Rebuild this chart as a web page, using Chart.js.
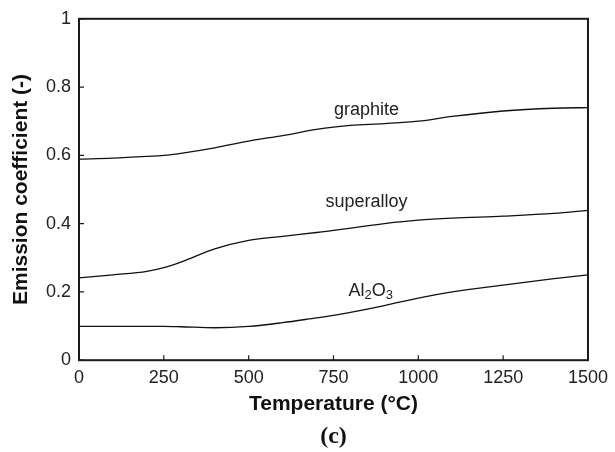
<!DOCTYPE html>
<html>
<head>
<meta charset="utf-8">
<script src="https://cdn.jsdelivr.net/npm/chart.js@4"></script>
<style>
  html, body { margin: 0; padding: 0; background: #fff; }
  #wrap { width: 615px; height: 452px; position: relative; }
</style>
</head>
<body>
<div id="wrap"><canvas id="emissionChart"></canvas></div>
<script>
// temperature (°C)
const temperatures = [0, 100, 200, 250, 300, 400, 500, 600, 700, 750, 800, 900, 1000, 1100, 1250, 1400, 1500];
// emission coefficient per material
const graphite   = [0.589, 0.592, 0.597, 0.600, 0.606, 0.622, 0.642, 0.658, 0.676, 0.683, 0.688, 0.693, 0.700, 0.714, 0.730, 0.738, 0.740];
const superalloy = [0.241, 0.250, 0.260, 0.271, 0.287, 0.326, 0.351, 0.363, 0.374, 0.380, 0.387, 0.400, 0.410, 0.416, 0.422, 0.430, 0.439];
const alumina    = [0.099, 0.099, 0.099, 0.099, 0.098, 0.095, 0.099, 0.110, 0.124, 0.131, 0.140, 0.160, 0.182, 0.200, 0.220, 0.239, 0.250];

const xTicks = [0, 250, 500, 750, 1000, 1250, 1500];
const yTicks = [0, 0.2, 0.4, 0.6, 0.8, 1];

// curve labels: [text, x, y]
const curveLabels = [
    ['graphite', 847, 0.732],
    ['superalloy', 847, 0.463],
    ['Al2O3', 860, 0.204]
];

function toPoints(ys) {
    return temperatures.map((t, i) => ({ x: t, y: ys[i] }));
}

const lineStyle = {
    borderColor: '#111',
    borderWidth: 1.3,
    pointRadius: 0,
    fill: false,
    cubicInterpolationMode: 'monotone'
};

const sans = '"Liberation Sans", Arial, sans-serif';

/**
 * 框線、內向刻度與曲線標籤
 */
const framePlugin = {
    id: 'frame',
    afterDraw(chart) {
        const ctx = chart.ctx;
        const a = chart.chartArea;
        const xs = chart.scales.x;
        const ys = chart.scales.y;
        ctx.save();
        ctx.strokeStyle = '#1a1a1a';
        ctx.lineWidth = 1.2;
        ctx.beginPath();
        xTicks.forEach(v => {
            const px = xs.getPixelForValue(v);
            ctx.moveTo(px, a.bottom);
            ctx.lineTo(px, a.bottom - 5);
        });
        yTicks.forEach(v => {
            const py = ys.getPixelForValue(v);
            ctx.moveTo(a.left, py);
            ctx.lineTo(a.left + 5, py);
        });
        ctx.stroke();
        ctx.lineWidth = 2;
        ctx.strokeRect(a.left, a.top, a.right - a.left, a.bottom - a.top);

        ctx.fillStyle = '#222';
        ctx.textBaseline = 'middle';
        curveLabels.forEach(([text, xv, yv]) => {
            const px = xs.getPixelForValue(xv);
            const py = ys.getPixelForValue(yv);
            if (text === 'Al2O3') {
                const big = '18px ' + sans;
                const small = '13px ' + sans;
                const parts = [['Al', big, 0], ['2', small, 5], ['O', big, 0], ['3', small, 5]];
                let w = 0;
                parts.forEach(([s, f]) => { ctx.font = f; w += ctx.measureText(s).width; });
                let cx = px - w / 2;
                ctx.textAlign = 'left';
                parts.forEach(([s, f, dy]) => {
                    ctx.font = f;
                    ctx.fillText(s, cx, py + dy);
                    cx += ctx.measureText(s).width;
                });
            } else {
                ctx.font = '18px ' + sans;
                ctx.textAlign = 'center';
                ctx.fillText(text, px, py);
            }
        });
        ctx.restore();
    }
};

const ctx = document.getElementById('emissionChart').getContext('2d');
new Chart(ctx, {
    type: 'line',
    data: {
        datasets: [
            { label: 'graphite', data: toPoints(graphite), ...lineStyle },
            { label: 'superalloy', data: toPoints(superalloy), ...lineStyle },
            { label: 'Al2O3', data: toPoints(alumina), ...lineStyle }
        ]
    },
    options: {
        responsive: true,
        maintainAspectRatio: false,
        animation: false,
        layout: { padding: { top: 16, right: 27, left: 0, bottom: 0 } },
        plugins: {
            legend: { display: false },
            tooltip: { enabled: false },
            title: {
                display: true,
                position: 'bottom',
                fullSize: false,
                text: '(c)',
                color: '#111',
                font: { family: '"Liberation Serif", "Times New Roman", serif', size: 24, weight: 'bold' },
                padding: { top: 0, bottom: 1 }
            }
        },
        scales: {
            x: {
                type: 'linear',
                min: 0,
                max: 1500,
                afterBuildTicks: s => { s.ticks = xTicks.map(v => ({ value: v })); },
                afterFit: s => { s.height = 62; },
                grid: { display: false, drawTicks: false },
                border: { display: false },
                ticks: {
                    padding: 7,
                    color: '#222',
                    maxRotation: 0,
                    callback: v => String(v),
                    font: { family: sans, size: 18 }
                },
                title: {
                    display: true,
                    text: 'Temperature (°C)',
                    color: '#111',
                    font: { family: sans, size: 21, weight: 'bold' },
                    padding: { top: 0, bottom: 5 }
                }
            },
            y: {
                min: 0,
                max: 1,
                afterBuildTicks: s => { s.ticks = yTicks.map(v => ({ value: v })); },
                afterFit: s => { s.width = 79; },
                grid: { display: false, drawTicks: false },
                border: { display: false },
                ticks: {
                    padding: 8,
                    color: '#222',
                    callback: v => String(v),
                    font: { family: sans, size: 18 }
                },
                title: {
                    display: true,
                    text: 'Emission coefficient (-)',
                    color: '#111',
                    font: { family: sans, size: 21, weight: 'bold' },
                    padding: { top: 9, bottom: 0 }
                }
            }
        }
    },
    plugins: [framePlugin]
});
</script>
</body>
</html>
